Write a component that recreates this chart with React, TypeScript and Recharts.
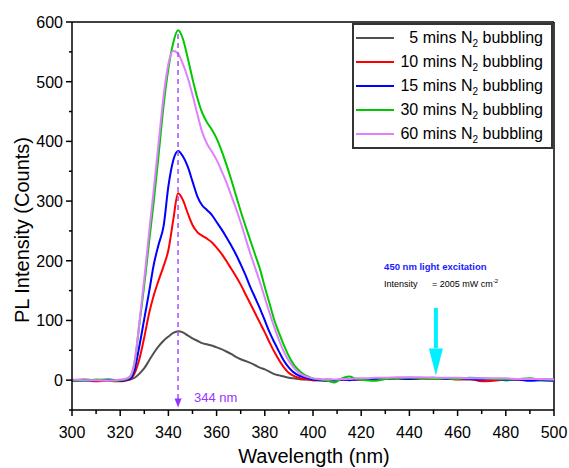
import React from 'react';
import { LineChart, Line, XAxis, YAxis, ReferenceLine, ReferenceDot, Legend } from 'recharts';

const FONT = "Arial, 'Liberation Sans', sans-serif";

// wavelength grid (nm)
const wavelength = [
  300, 305, 310, 315, 318, 320, 322, 324, 326, 328, 330, 332, 334, 336, 338, 340, 342, 344, 346, 348,
  350, 352, 354, 356, 358, 360, 362, 364, 366, 368, 370, 372, 374, 376, 378, 380, 382, 384, 386, 388,
  390, 392, 394, 396, 398, 400, 403, 406, 409, 412, 415, 418, 422, 426, 430, 435, 440, 445, 450, 455,
  460, 465, 470, 475, 480, 485, 490, 495, 500,
];

const bubbling5 = [
  0, 1, 0, -1, 0, -1, 0, 1, 4, 11, 20, 33, 46, 57, 66, 73, 79, 82, 80, 75,
  70, 66, 62, 60, 58, 55, 52, 48, 44, 39, 35, 32, 29, 25, 21, 18, 14, 10, 8, 6,
  4, 3, 2, 1, 1, 0, 0, 1, 0, 1, 2, 1, 2, 2, 3, 3, 3, 3, 3, 2,
  2, 1, 1, 2, 1, 1, 1, 0, 0,
];

const bubbling10 = [
  -1, 0, -2, -1, -2, -2, -1, 1, 12, 36, 72, 112, 143, 168, 191, 218, 268, 313, 302, 280,
  260, 248, 242, 237, 231, 222, 212, 200, 187, 174, 160, 144, 128, 112, 96, 80, 63, 47, 33, 21,
  12, 7, 4, 2, 1, 0, 0, -1, -1, 1, 2, 1, 1, 2, 2, 3, 2, 3, 2, 3,
  1, 2, -2, -1, 1, 1, 2, 1, 0,
];

const bubbling15 = [
  0, -1, 0, 1, 0, -1, 0, 2, 18, 58, 103, 148, 195, 228, 258, 325, 368, 384, 375, 358,
  333, 308, 293, 285, 277, 265, 253, 240, 226, 211, 194, 176, 156, 138, 120, 100, 80, 63, 47, 32,
  21, 13, 8, 5, 3, 1, 0, -1, 0, 1, 0, 1, 2, 1, 2, 3, 2, 3, 4, 2,
  3, 2, 1, 2, 0, 1, -1, 0, -1,
];

const bubbling30 = [
  0, -1, 1, 0, -1, 0, 1, 5, 30, 95, 160, 232, 302, 380, 460, 522, 565, 586, 572, 540,
  505, 473, 448, 432, 420, 405, 385, 362, 337, 310, 283, 258, 234, 210, 186, 156, 128, 100, 78, 58,
  40, 26, 17, 10, 6, 3, 1, -1, -4, 3, 6, 2, 0, -1, 2, 3, 4, 3, 2, 3,
  2, 4, 3, 2, 1, 2, 3, 1, 1,
];

const bubbling60 = [
  1, 0, 0, -1, 0, 1, 2, 6, 32, 98, 170, 248, 322, 400, 476, 530, 552, 547, 530, 507,
  478, 446, 416, 396, 383, 369, 351, 332, 310, 288, 264, 238, 212, 188, 164, 138, 112, 88, 66, 47,
  32, 21, 13, 8, 5, 3, 2, 1, 1, 2, 2, 3, 3, 4, 4, 5, 5, 5, 4, 4,
  4, 3, 3, 3, 3, 2, 2, 2, 1,
];

const seriesKeys = ['m5', 'm10', 'm15', 'm30', 'm60'];
const seriesMinutes = ['5', '10', '15', '30', '60'];
const seriesColors = ['#505050', '#ff0000', '#0000ff', '#00c800', '#e080ff'];

const yTicks = [-50, 0, 50, 100, 150, 200, 250, 300, 350, 400, 450, 500, 550, 600];
const xTicks = [300, 310, 320, 330, 340, 350, 360, 370, 380, 390, 400, 410, 420, 430, 440, 450, 460, 470, 480, 490, 500];

const peakWavelength = 344;
const excitationWavelength = 451;

const data = wavelength.map((w, i) => ({
  w,
  m5: bubbling5[i],
  m10: bubbling10[i],
  m15: bubbling15[i],
  m30: bubbling30[i],
  m60: bubbling60[i],
}));

const YTick = (props: any) => {
  const { x, y, payload } = props;
  const major = payload.value % 100 === 0;
  return (
    <g>
      <line x1={x - (major ? 6 : 3)} x2={x} y1={y} y2={y} stroke="#000" strokeWidth={1.5} />
      {major && (
        <text x={x - 9} y={y} dy={6} textAnchor="end" fontSize={16} fontFamily={FONT} fill="#000">
          {payload.value}
        </text>
      )}
    </g>
  );
};

const XTick = (props: any) => {
  const { x, y, payload } = props;
  const major = payload.value % 20 === 0;
  return (
    <g>
      <line x1={x} x2={x} y1={y} y2={y + (major ? 6 : 4)} stroke="#000" strokeWidth={1.5} />
      {major && (
        <text x={x} y={y + 28} textAnchor="middle" fontSize={16} fontFamily={FONT} fill="#000">
          {payload.value}
        </text>
      )}
    </g>
  );
};

const DashedArrow = (props: any) => {
  const { x1, y1, x2, y2 } = props;
  return (
    <g>
      <line x1={x1} y1={y1} x2={x2} y2={y2 - 8} stroke="#a64dff" strokeWidth={1.5} strokeDasharray="5 4" />
      <polygon points={`${x2 - 3.5},${y2 - 9} ${x2 + 3.5},${y2 - 9} ${x2},${y2}`} fill="#9933ff" />
      <text x={x2 + 16} y={y2 - 6} fontSize={13} fontFamily={FONT} fill="#9933ff">344 nm</text>
    </g>
  );
};

const CyanArrow = (props: any) => {
  const { x1, y1, x2, y2 } = props;
  const headTop = y2 - 27;
  return (
    <g>
      <rect x={x1 - 2} y={y1} width={4} height={headTop - y1} fill="#00f0ff" />
      <polygon points={`${x2 - 7},${headTop} ${x2 + 7},${headTop} ${x2},${y2}`} fill="#00f0ff" />
    </g>
  );
};

const ExcitationText = (props: any) => {
  const { cx, cy } = props;
  return (
    <g fontFamily={FONT}>
      <text x={cx} y={cy} fontSize={9.5} fontWeight="bold" fill="#1a1aff">450 nm light excitation</text>
      <text x={cx} y={cy + 17} fontSize={9} fill="#000">Intensity</text>
      <text x={cx + 48} y={cy + 17} fontSize={9} fill="#000">
        = 2005 mW cm<tspan dy={-4} fontSize={6}>-2</tspan>
      </text>
    </g>
  );
};

const LegendBox = () => (
  <div
    style={{
      border: '2px solid #333',
      background: '#fff',
      padding: '1px 8px 1px 2px',
      fontFamily: FONT,
      fontSize: 16,
      color: '#000',
    }}
  >
    {seriesMinutes.map((m, i) => (
      <div key={m} style={{ display: 'flex', alignItems: 'center', height: 24 }}>
        <span style={{ width: 38, height: 0, borderTop: `2px solid ${seriesColors[i]}` }} />
        <span style={{ flex: 1, textAlign: 'right', whiteSpace: 'nowrap' }}>
          {m} mins N<span style={{ fontSize: 10, verticalAlign: 'sub', lineHeight: 0 }}>2</span> bubbling
        </span>
      </div>
    ))}
  </div>
);

export default function App() {
  return (
    <div style={{ position: 'absolute', left: 0, top: 0, width: 569, height: 468, background: '#fff' }}>
      <LineChart width={569} height={468} data={data} margin={{ top: 22, right: 15, left: 0, bottom: 0 }}>
        <XAxis
          dataKey="w"
          type="number"
          domain={[300, 500]}
          ticks={xTicks}
          interval={0}
          height={58}
          tickSize={0}
          tickMargin={0}
          tick={<XTick />}
          axisLine={{ stroke: '#000', strokeWidth: 1.5 }}
          tickLine={false}
        />
        <YAxis
          type="number"
          domain={[-50, 600]}
          ticks={yTicks}
          interval={0}
          width={72}
          tickSize={0}
          tickMargin={0}
          tick={<YTick />}
          axisLine={{ stroke: '#000', strokeWidth: 1.5 }}
          tickLine={false}
        />
        <ReferenceLine y={600} stroke="#000" strokeWidth={1.5} />
        <ReferenceLine x={500} stroke="#000" strokeWidth={1.5} />
        {seriesKeys.map((k, i) => (
          <Line
            key={k}
            type="monotone"
            dataKey={k}
            stroke={seriesColors[i]}
            strokeWidth={2}
            dot={false}
            isAnimationActive={false}
          />
        ))}
        <ReferenceLine
          segment={[{ x: peakWavelength, y: 580 }, { x: peakWavelength, y: -46 }]}
          shape={DashedArrow}
        />
        <ReferenceLine
          segment={[{ x: excitationWavelength, y: 121 }, { x: excitationWavelength, y: 8 }]}
          shape={CyanArrow}
        />
        <ReferenceDot x={429.5} y={184} r={0} shape={ExcitationText} />
        <Legend
          layout="vertical"
          align="center"
          verticalAlign="middle"
          content={<LegendBox />}
          wrapperStyle={{ left: 352, top: 23, width: 201 }}
        />
      </LineChart>
      <svg width={569} height={468} style={{ position: 'absolute', left: 0, top: 0, pointerEvents: 'none' }}>
        <text
          x={22}
          y={230}
          transform="rotate(-90 22 230)"
          textAnchor="middle"
          dominantBaseline="central"
          fontSize={20}
          fontFamily={FONT}
        >
          PL Intensity (Counts)
        </text>
        <text x={314} y={463} textAnchor="middle" fontSize={20} fontFamily={FONT}>
          Wavelength (nm)
        </text>
      </svg>
    </div>
  );
}
